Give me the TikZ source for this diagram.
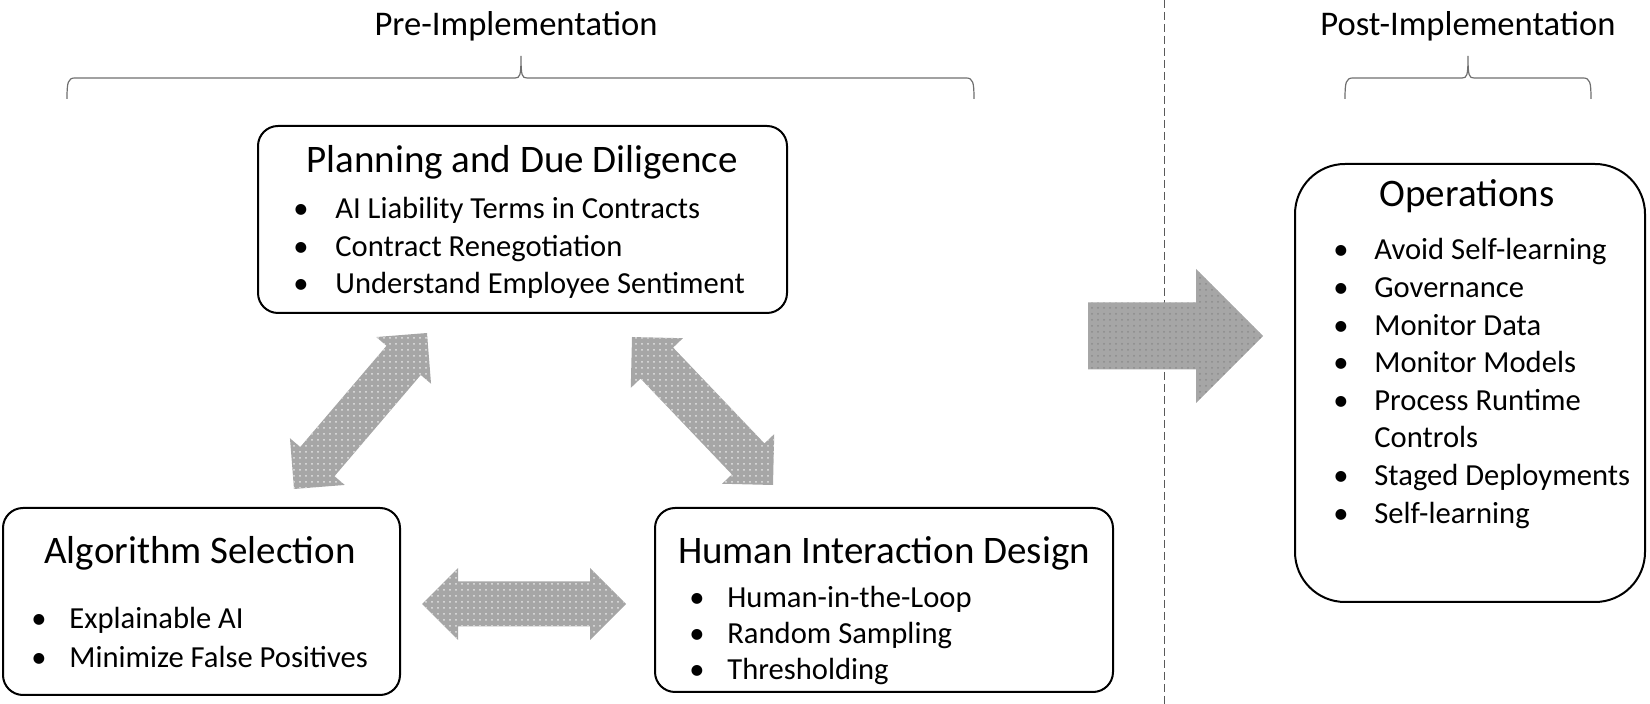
\documentclass[tikz,border=0pt]{standalone}
\usepackage{fontspec}
\setmainfont{Carlito}
\usetikzlibrary{calc,patterns}

\definecolor{arrowgray}{HTML}{A6A6A6}
\definecolor{linegray}{HTML}{595959}
\definecolor{bracegray}{HTML}{6F6F6F}

\tikzset{
  box/.style={draw, line width=1pt, rounded corners=10pt},
  heading/.style={font=\fontsize{17.3}{20}\selectfont, anchor=base},
  title/.style={font=\fontsize{19.5}{23}\selectfont, anchor=base},
  bullet/.style={font=\fontsize{15.3}{18}\selectfont, anchor=base west, inner sep=0pt},
  phasebrace/.style={bracegray, line width=0.6pt},
  divider/.style={linegray, line width=0.5pt, dash pattern=on 4pt off 2pt},
  blockfill/.style={fill=arrowgray, postaction={pattern=dots, pattern color=white!70!arrowgray}},
  bigfill/.style={fill=arrowgray, postaction={pattern=dots, pattern color=black!45}}
}

% brace over a phase: left x, tip x, right x
\newcommand{\bracebar}[3]{%
  \draw[phasebrace] (#1,99) .. controls (#1,82) and (#1+1,78) .. (#1+8,78)
    -- (#2-6,78) .. controls (#2-1,78) and (#2,76) .. (#2,56)
    .. controls (#2,76) and (#2+1,78) .. (#2+6,78)
    -- (#3-8,78) .. controls (#3-1,78) and (#3,82) .. (#3,99);}

% double headed block arrow between two coordinates
\newcommand{\blockarrow}[2]{%
  \fill[blockfill] (#1)
    -- ($(#1)!18pt!(#2)!18pt!90:(#2)$)
    -- ($(#1)!18pt!(#2)!11.25pt!90:(#2)$)
    -- ($(#2)!18pt!(#1)!11.25pt!-90:(#1)$)
    -- ($(#2)!18pt!(#1)!18pt!-90:(#1)$)
    -- (#2)
    -- ($(#2)!18pt!(#1)!18pt!90:(#1)$)
    -- ($(#2)!18pt!(#1)!11.25pt!90:(#1)$)
    -- ($(#1)!18pt!(#2)!11.25pt!-90:(#2)$)
    -- ($(#1)!18pt!(#2)!18pt!-90:(#2)$)
    -- cycle;}

\begin{document}
\begin{tikzpicture}[x=0.5pt, y=-0.5pt]
\useasboundingbox (0,0) rectangle (1650,704);

% phase headings
\node[heading] (pre) at (516,36) {Pre-Implementation};
\node[heading] (post) at (1468,36) {Post-Implementation};

% braces
\bracebar{67}{521}{974}
\bracebar{1345}{1468}{1591}

% divider
\draw[divider] (1164,0) -- (1164,704);

% boxes
\node[box, minimum width=264.5pt, minimum height=93.5pt] (plan) at (522.5,219.5) {};
\node[box, minimum width=198.5pt, minimum height=93.5pt] (algo) at (201.5,601.5) {};
\node[box, minimum width=229pt, minimum height=92pt] (human) at (884,600) {};
\node[box, rounded corners=25pt, minimum width=175pt, minimum height=219pt] (ops) at (1470,383) {};

% titles
\node[title] (plantitle) at (522,173) {Planning and Due Diligence};
\node[title] (algotitle) at (200,564) {Algorithm Selection};
\node[title] (humantitle) at (884,564) {Human Interaction Design};
\node[title] (opstitle) at (1467,207) {Operations};

% bullet lists
\foreach \txt [count=\i from 0] in {AI Liability Terms in Contracts, Contract Renegotiation, Understand Employee Sentiment}
  \node[bullet] (plan\i) at (293,{219+37.5*\i}) {\makebox[21pt][l]{•}\txt};
\foreach \txt [count=\i from 0] in {Explainable AI, Minimize False Positives}
  \node[bullet] (algo\i) at (31,{629+39*\i}) {\makebox[19pt][l]{•}\txt};
\foreach \txt [count=\i from 0] in {Human-in-the-Loop, Random Sampling, Thresholding}
  \node[bullet] (human\i) at (689,{608+36*\i}) {\makebox[19pt][l]{•}\txt};
\foreach \b/\txt [count=\i from 0] in {•/Avoid Self-learning, •/Governance, •/Monitor Data, •/Monitor Models, •/Process Runtime, /Controls, •/Staged Deployments, •/Self-learning}
  \node[bullet] (ops\i) at (1333,{260+37.6*\i}) {\makebox[20.5pt][l]{\b}\txt};

% block arrows
\coordinate (algoup) at (294,489);
\coordinate (planleft) at (427,333);
\blockarrow{algoup}{planleft}
\coordinate (planright) at (632,337);
\coordinate (humanup) at (773,485);
\blockarrow{planright}{humanup}
\coordinate (algoright) at (422,604);
\coordinate (humanleft) at (626,604);
\blockarrow{algoright}{humanleft}

% arrow into operations
\coordinate (opstail) at (1088,336);
\coordinate (opstip) at (1263,336);
\fill[bigfill] ($(opstail)!16.75pt!90:(opstip)$)
  -- ($(opstip)!33.5pt!(opstail)!16.75pt!-90:(opstail)$)
  -- ($(opstip)!33.5pt!(opstail)!33.5pt!-90:(opstail)$)
  -- (opstip)
  -- ($(opstip)!33.5pt!(opstail)!33.5pt!90:(opstail)$)
  -- ($(opstip)!33.5pt!(opstail)!16.75pt!90:(opstail)$)
  -- ($(opstail)!16.75pt!-90:(opstip)$)
  -- cycle;

\end{tikzpicture}
\end{document}
